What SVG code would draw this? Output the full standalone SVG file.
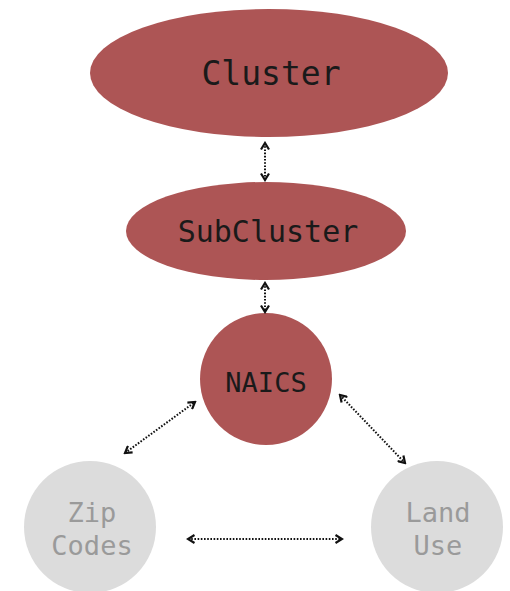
<svg xmlns="http://www.w3.org/2000/svg" width="510" height="591" viewBox="0 0 510 591">
<defs>
<style>
.red{fill:#ad5555;}
.grey{fill:#dcdcdc;}
.t{font-family:"DejaVu Sans Mono","Liberation Mono",monospace;text-anchor:middle;fill:#1a1a1a;}
.g{font-family:"DejaVu Sans Mono","Liberation Mono",monospace;text-anchor:middle;fill:#9a9a9a;font-size:27px;}
.c{fill:none;stroke:#111;stroke-width:2;stroke-dasharray:1.6 1.6;}
</style>
<marker id="ah" viewBox="0 0 10 10" refX="8" refY="5" markerWidth="10" markerHeight="10" orient="auto-start-reverse" markerUnits="userSpaceOnUse">
<path d="M1.5,1 L8,5 L1.5,9" fill="none" stroke="#111" stroke-width="2.2"/>
</marker>
</defs>
<rect width="510" height="591" fill="#fff"/>
<g id="cluster">
<ellipse class="red" cx="269" cy="73" rx="179" ry="64"/>
<text class="t" x="271" y="85" font-size="33">Cluster</text>
</g>
<g id="subcluster">
<ellipse class="red" cx="266" cy="231" rx="140" ry="49"/>
<text class="t" x="268" y="242" font-size="30">SubCluster</text>
</g>
<g id="naics">
<circle class="red" cx="266" cy="379" r="66"/>
<text class="t" x="266" y="392" font-size="27">NAICS</text>
</g>
<g id="zip">
<circle class="grey" cx="90" cy="527" r="66"/>
<text class="g" x="92" y="522">Zip</text>
<text class="g" x="92" y="555">Codes</text>
</g>
<g id="landuse">
<circle class="grey" cx="437" cy="527" r="66"/>
<text class="g" x="438" y="522">Land</text>
<text class="g" x="438" y="555">Use</text>
</g>
<g id="connectors">
<line class="c" x1="265" y1="143" x2="265" y2="180" marker-start="url(#ah)" marker-end="url(#ah)"/>
<line class="c" x1="265" y1="283" x2="265" y2="312" marker-start="url(#ah)" marker-end="url(#ah)"/>
<line class="c" x1="125" y1="453" x2="195" y2="402" marker-start="url(#ah)" marker-end="url(#ah)"/>
<line class="c" x1="340" y1="395" x2="405" y2="463" marker-start="url(#ah)" marker-end="url(#ah)"/>
<line class="c" x1="188" y1="539" x2="342" y2="539" marker-start="url(#ah)" marker-end="url(#ah)"/>
</g>
</svg>
